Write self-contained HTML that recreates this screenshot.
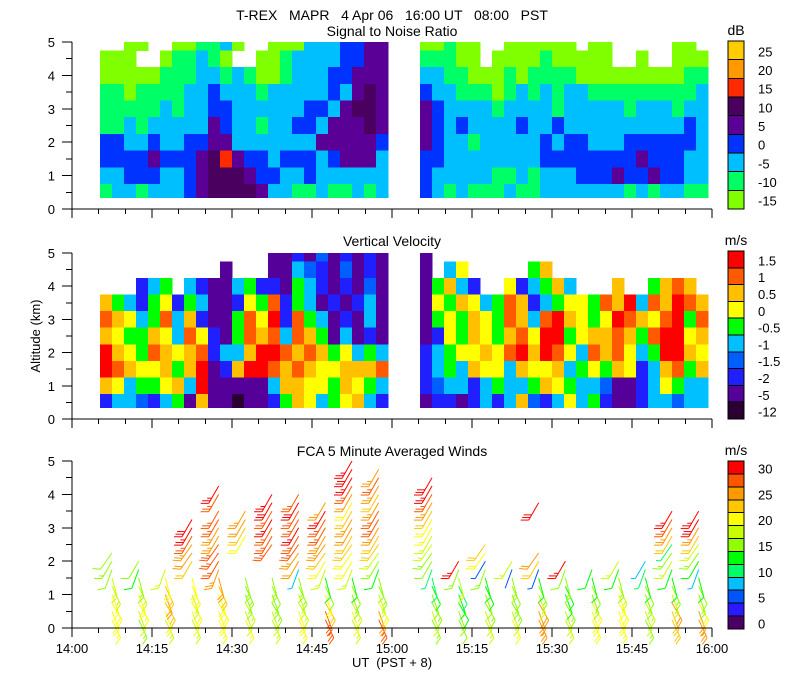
<!DOCTYPE html>
<html><head><meta charset="utf-8"><style>
html,body{margin:0;padding:0;background:#fff}
svg{display:block;font-family:"Liberation Sans",sans-serif}
text{fill:#000}
</style></head><body>
<svg id="chart" width="800" height="700" viewBox="0 0 800 700" xmlns="http://www.w3.org/2000/svg" shape-rendering="crispEdges">
<rect width="800" height="700" fill="#fff"/>
<text x="392" y="20" text-anchor="middle" font-size="14" xml:space="preserve">T-REX   MAPR   4 Apr 06   16:00 UT   08:00   PST</text>
<text x="392" y="36" text-anchor="middle" font-size="14">Signal to Noise Ratio</text>
<text x="392" y="246" text-anchor="middle" font-size="14">Vertical Velocity</text>
<text x="392" y="456" text-anchor="middle" font-size="14">FCA 5 Minute Averaged Winds</text>
<text x="0" y="0" transform="translate(40,336) rotate(-90)" text-anchor="middle" font-size="13">Altitude  (km)</text>
<text x="392" y="667" text-anchor="middle" font-size="13" xml:space="preserve">UT  (PST + 8)</text>
<g id="layer"></g>
</svg>
<script>
// ---------- data ----------
const gridAlts = [5.0,4.5,4.0,3.5,3.0,2.5,2.0,1.5,1.0,0.5];
const segStarts = [5.25, 65.25];   // minutes after 14:00
const segCols = 24;
const colMinutes = 2.25;
const N = null;
const snrRows = [
[N,N,-15,-15,N,N,-15,-15,-10,-10,-5,-15,N,N,-15,-15,-15,-5,-5,-5,0,0,5,5, -15,-15,-10,-15,-15,N,N,-15,-15,-15,-15,-15,-15,N,-15,-15,N,N,N,N,N,-15,-15,N],
[-15,-15,-15,N,N,-15,-10,-10,-5,-10,-15,N,N,-15,-15,-10,-5,-5,-5,-5,0,0,5,5, -10,-10,-10,-15,-15,N,-15,-15,-15,-15,-10,-15,-15,-15,-15,-15,N,N,-15,N,N,-15,-15,-15],
[-15,-15,-15,-15,-15,-10,-10,-10,-5,-5,-10,-5,-10,-15,-15,-10,-5,-5,-5,0,0,5,5,5, -5,-5,-10,-10,-15,-15,-15,-10,-15,-10,-10,-10,-10,-15,-15,-15,-15,-15,-15,-15,-15,-15,-10,-10],
[-10,-10,-15,-10,-10,-10,-10,-5,-5,0,-5,-5,-5,-10,-5,-5,-5,-5,-5,0,-5,5,10,5, 0,-5,-5,-10,-10,-10,-15,-10,-5,-10,-5,-10,-5,-5,-10,-10,-10,-10,-10,-10,-10,-10,-10,-5],
[-10,-10,-10,-10,-10,-5,-10,-5,-5,0,0,-5,-5,-5,-5,-5,-5,0,0,-5,5,10,10,5, 5,0,-5,-5,-5,-5,-10,-5,-5,-5,-5,-10,-5,-5,-5,-5,-5,-10,-5,-5,-5,-10,-5,-5],
[-10,-10,-5,-10,-5,-5,-5,-5,-5,5,0,-5,-5,-10,-5,-5,0,0,-5,5,5,5,10,5, 5,0,-5,0,-5,-5,-5,-5,0,-5,-5,0,-5,-5,-5,-5,-5,-5,-5,-5,-5,-5,0,-5],
[0,0,-5,-5,0,-5,-5,0,0,5,5,-5,-5,-5,-5,-5,-5,-5,5,5,5,5,5,0, 5,0,-5,-5,-10,-5,-5,-5,-5,-5,0,-5,0,0,-5,-5,-5,0,0,0,0,0,0,-5],
[0,0,0,0,5,0,0,0,5,10,15,5,0,0,-5,0,0,0,-5,0,5,5,5,-5, 0,0,-5,-5,-5,-5,-5,-5,-5,-5,0,0,0,0,0,0,0,0,5,0,0,0,-5,-5],
[-5,-5,0,0,0,-5,-5,0,5,10,10,10,5,0,0,-5,-5,0,-5,-5,-5,-5,-5,-5, 0,-5,-5,-5,-5,-5,-10,-10,-5,-10,-5,-5,-5,0,0,0,5,0,0,5,0,0,-5,-5],
[-10,-5,-5,-10,-5,-5,-5,0,5,10,10,10,10,5,-5,-5,-10,-10,-5,-10,-10,-5,-10,-5, 0,-5,-10,-5,-10,-10,-10,-5,-10,-10,-5,-5,-5,-5,-5,-5,-5,-10,-5,-10,-5,-5,-10,-10]
];
const vvRows = [
[N,N,N,N,N,N,N,N,N,N,N,N,N,N,-5,-5,-2,-5,-1.5,-5,-2,-5,-2,-5, -5,N,N,N,N,N,N,N,N,N,N,N,N,N,N,N,N,N,N,N,N,N,N,N],
[N,N,N,N,N,N,N,N,N,N,-5,N,N,N,-5,-5,-1,-1.5,-2,-5,-1.5,-5,-2,-5, -5,N,-1,0,N,N,N,N,N,-0.5,0.5,N,N,N,N,N,N,N,N,N,N,N,N,N],
[N,N,N,-2,-1,-0.5,N,-1,-2,-5,-5,-1,-0.5,-2,-2,-5,-0.5,-1,-2,-5,-2,-5,-1.5,-5, -5,-0.5,0.5,-1,-2,N,N,0,-2,-1,-0.5,0.5,-1,N,N,N,0.5,N,N,-0.5,0.5,1,0.5,N],
[0.5,-0.5,-1,-2,-0.5,0,-2,-0.5,-1,-5,-5,-2,0,-0.5,1,-2,-0.5,-1,-5,-2,-5,-2,-1,-5, -5,0,-0.5,0.5,0,-1,-0.5,1,0.5,-2,-1,-0.5,0,0,-0.5,1,0.5,1.5,-1,1,0.5,1.5,1,0.5],
[1,0.5,0,-1,-0.5,1,-1,0.5,-2,-5,-5,-0.5,1,0,1.5,-2,1,-0.5,-1,-5,-2,-5,-1,-5, -5,-0.5,0,-0.5,0.5,0,-0.5,1,0.5,-1,1,1.5,0.5,0,-0.5,0,1.5,1,0.5,0,1,1.5,-0.5,1],
[0.5,0,-0.5,-0.5,0.5,0,-1,1,0,-2,-5,-0.5,1,0.5,1,-1,1,0.5,-0.5,-5,-1,-5,-2,-5, -5,-2,0,-0.5,0.5,0,-0.5,0.5,1,0,1.5,1.5,-0.5,0,0.5,0.5,1,0.5,-0.5,1,1.5,1.5,0,0.5],
[1.5,0.5,0,-0.5,1,0.5,0,0.5,1,-2,-1,-1,0.5,1.5,1.5,1,0.5,1,0.5,-0.5,0,-1,-0.5,-1, -2,-1,-0.5,0,0,0.5,0,1,1.5,0.5,1.5,1,0,-1,1,0.5,1,0,-1,-0.5,1.5,1.5,0.5,0],
[1.5,1,0.5,0,0,0.5,-0.5,0.5,1.5,-5,-2,0.5,1.5,1.5,1,0.5,1,0.5,0,0,0.5,0.5,0.5,1, -2,-1,-0.5,-1,0.5,0,0,-1,0.5,0,0,0.5,-1,-0.5,0,-0.5,0.5,0,-2,-1,0.5,1,-0.5,0.5],
[0.5,0,-1,-0.5,-0.5,0,0.5,-1,1.5,-5,-5,-5,-5,-5,-1,0.5,0.5,0,0,-0.5,0.5,0,-0.5,-1, -2,-1.5,-1,-1,-2,-1,-0.5,-1,-1,-0.5,0.5,0,-0.5,-1,-1,-1.5,-5,-5,-2,-1,0,-0.5,-1,-1],
[-2,-1,-1,-1.5,-2,-1,-0.5,-5,0.5,-5,-5,-12,-5,-5,-2,-0.5,0.5,0,-1,-0.5,0,0.5,-1,-2, -5,-2,-2,-5,-2,-1,-2,-1,0.5,-1.5,-2,-1,0,-1,-0.5,-2,-5,-5,-2,-1,-1,-1.5,-1,-1]
];
const snrLevels = [25,20,15,10,5,0,-5,-10,-15];
const snrColors = ["#ffcc00","#ff9900","#ff2a00","#4a005e","#5a0096","#0033ff","#00bfff","#00ff66","#80ff00"];
const vvLevels = [1.5,1,0.5,0,-0.5,-1,-1.5,-2,-5,-12];
const vvColors = ["#ff0000","#ff5a00","#ffc000","#ffff00","#00ff00","#00c0ff","#0060ff","#2020ff","#550099","#2a0033"];
const windLevels = [30,27.5,25,22.5,20,17.5,15,12.5,10,7.5,5,2.5,0];
const windColors = ["#ff0000","#ff5500","#ff9900","#ffc800","#ffff00","#c8ff00","#90ff00","#00ff00","#00ff66","#00c0ff","#0055ff","#2a1aff","#4b0066"];
const windTimes = [7.5,12.5,17.5,22.5,27.5,32.5,37.5,42.5,47.5,52.5,57.5,67.5,72.5,77.5,82.5,87.5,92.5,97.5,102.5,107.5,112.5,117.5];
const windAltStep = 0.25;
const windSpeeds = [
[19,20,21,19,18,17,14,15,14],
[16,18,19,20,17,15,13,14],
[17,21,23,24,22,20,17],
[18,19,20,18,20,21,N,23,24,26,27,29,30],
[19,20,21,20,22,24,26,27,28,27,25,26,28,27,N,28,29],
[19,18,17,16,15,16,N,N,N,N,21,22,24,25],
[18,17,16,15,14,16,N,N,N,27,28,27,29,28,30,29],
[19,20,18,17,16,15,7,24,26,27,28,29,28,27,30,28],
[27,28,22,20,14,13,17,21,23,25,26,27,28,29,26],
[18,19,17,16,14,13,18,20,21,22,23,24,25,22,21,24,27,29,30,29],
[27,26,20,17,15,14,13,16,17,22,23,25,27,28,25,22,26,27,25],
[15,17,16,14,13,10,9,14,16,17,18,19,21,23,25,27,29,30],
[14,15,13,12,10,17,15,29],
[18,17,15,14,12,13,15,5,21,22],
[19,18,16,15,14,16,4,17],
[25,26,24,17,15,13,6,23,24,N,N,N,N,N,30],
[18,17,15,13,12,15,14,29],
[21,20,19,16,14,12,13],
[19,20,21,19,17,16,13,18],
[15,17,18,16,14,12,9,8],
[22,23,24,18,15,13,12,17,15,9,22,25,28,29],
[25,24,20,16,14,13,8,13,15,17,22,25,30,29]
];
const windDirByLevel = [155,160,150,160,155,165,200,210,215,215,210,210,210,210,210,210,210,210,210,210];
const yTickLabels = ["0","1","2","3","4","5"];
const xTickLabels = ["14:00","14:15","14:30","14:45","15:00","15:15","15:30","15:45","16:00"];

// ---------- layout ----------
const X0 = 72, X1 = 712, TMIN = 0, TMAX = 120;
const panels = [
  {name:"snr", top:42, bot:209},
  {name:"vv", top:253, bot:419},
  {name:"wind", top:461, bot:628}
];
const xScale = t => X0 + (t - TMIN) / (TMAX - TMIN) * (X1 - X0);
const yScale = (p, a) => p.bot - a / 5 * (p.bot - p.top);
const NS = "http://www.w3.org/2000/svg";
const layer = document.getElementById("layer");
function mk(tag, attrs, parent) {
  const e = document.createElementNS(NS, tag);
  for (const k in attrs) e.setAttribute(k, attrs[k]);
  (parent || layer).appendChild(e);
  return e;
}
function colorFor(v, levels, colors) {
  let best = 0, bd = 1e9;
  for (let i = 0; i < levels.length; i++) { const d = Math.abs(levels[i] - v); if (d < bd) { bd = d; best = i; } }
  return colors[best];
}

// ---------- heatmaps ----------
function drawGrid(p, rows, levels, colors, nm) {
  const g = mk("g", {});
  
  
  for (let r = 0; r < rows.length; r++) {
    const a = gridAlts[r];
    const aTop = Math.min(5, a + 0.25), aBot = Math.max(0.35, a - 0.25);
    for (let c = 0; c < rows[r].length; c++) {
      const v = rows[r][c];
      if (v === null || v === undefined) continue;
      const seg = Math.floor(c / segCols), ci = c % segCols;
      const t0 = segStarts[seg] + ci * colMinutes, t1 = t0 + colMinutes;
      const x0 = xScale(t0), x1 = xScale(t1);
      const y0 = yScale(p, aTop), y1 = yScale(p, aBot);
      const rc = mk("rect", {x: x0, y: y0, width: x1 - x0 + 0.5, height: y1 - y0 + 0.5, fill: colorFor(v, levels, colors)}, g);
      
      
    }
  }
}
drawGrid(panels[0], snrRows, snrLevels, snrColors, "snr");
drawGrid(panels[1], vvRows, vvLevels, vvColors, "vv");

// ---------- wind barbs ----------
const wg = mk("g", {"shape-rendering": "auto"});


for (let i = 0; i < windTimes.length; i++) {
  const sp = windSpeeds[i];
  for (let k = 0; k < sp.length; k++) {
    const s = sp[k];
    if (s === null || s === undefined) continue;
    const alt = (k + 1) * windAltStep;
    const px = xScale(windTimes[i]), py = yScale(panels[2], alt);
    const d = windDirByLevel[k] * Math.PI / 180;
    const L = 20;
    const ux = Math.sin(d), uy = -Math.cos(d);
    const ex = px + ux * L, ey = py + uy * L;
    const col = colorFor(s, windLevels, windColors);
    const bb = mk("g", {stroke: col, "stroke-width": 1, fill: "none"}, wg);
    
    
    mk("line", {x1: px, y1: py, x2: ex, y2: ey}, bb);
    const ang = Math.atan2(uy, ux) + Math.PI / 3;
    const fx = Math.cos(ang), fy = Math.sin(ang);
    let full = Math.floor(s / 10), half = (s % 10) >= 5 ? 1 : 0;
    let pos = 0;
    for (let f = 0; f < full + half; f++) {
      const bx = ex - ux * pos, by = ey - uy * pos;
      const len = f < full ? 8 : 4.5;
      mk("line", {x1: bx, y1: by, x2: bx + fx * len, y2: by + fy * len}, bb);
      pos += 3;
    }
  }
}

// ---------- axes ----------
panels.forEach((p, pi) => {
  const ax = mk("g", {stroke: "#000", "stroke-width": 1});
  
  
  mk("line", {x1: X0, y1: p.top, x2: X0, y2: p.bot}, ax);
  mk("line", {x1: X0, y1: p.bot, x2: X1, y2: p.bot}, ax);
  for (let a = 0; a <= 10; a++) {
    const y = yScale(p, a / 2);
    const len = a % 2 === 0 ? 10 : 6;
    mk("line", {x1: X0 - len, y1: y, x2: X0, y2: y}, ax);
  }
  yTickLabels.forEach((lab, j) => {
    const t = mk("text", {x: 55, y: yScale(p, j) + 5, "text-anchor": "end", "font-size": 13});
    t.textContent = lab;
    
    
  });
  for (let m = 0; m <= 120; m += 5) {
    const x = xScale(m);
    const len = m % 15 === 0 ? 9 : 5;
    mk("line", {x1: x, y1: p.bot, x2: x, y2: p.bot + len}, ax);
  }
  if (pi === 2) {
    xTickLabels.forEach((lab, j) => {
      const t = mk("text", {x: xScale(j * 15), y: 653, "text-anchor": "middle", "font-size": 13});
      t.textContent = lab;
      
      
    });
  }
});

// ---------- colorbars ----------
function colorbar(p, top, bot, colors, labels, labelEvery, unit, nm) {
  const g = mk("g", {});
  
  
  const h = (bot - top) / colors.length;
  colors.forEach((c, i) => {
    const r = mk("rect", {x: 728, y: top + i * h, width: 16, height: h, fill: c, stroke: "#000", "stroke-width": 1}, g);
    
    
  });
  labels.forEach((lab, i) => {
    const bi = i * labelEvery;
    const t = mk("text", {x: 758, y: top + (bi + 0.5) * h + 6, "font-size": 13}, g);
    t.textContent = lab;
    
    
  });
  const u = mk("text", {x: 736, y: top - 6, "text-anchor": "middle", "font-size": 14}, g);
  u.textContent = unit;
  
  
}
colorbar(panels[0], 41, 209, snrColors, snrLevels.map(String), 1, "dB", "snr");
colorbar(panels[1], 251, 419, vvColors, vvLevels.map(String), 1, "m/s", "vv");
colorbar(panels[2], 461, 629, windColors, ["30","25","20","15","10","5","0"], 2, "m/s", "wind");
</script>
</body></html>
